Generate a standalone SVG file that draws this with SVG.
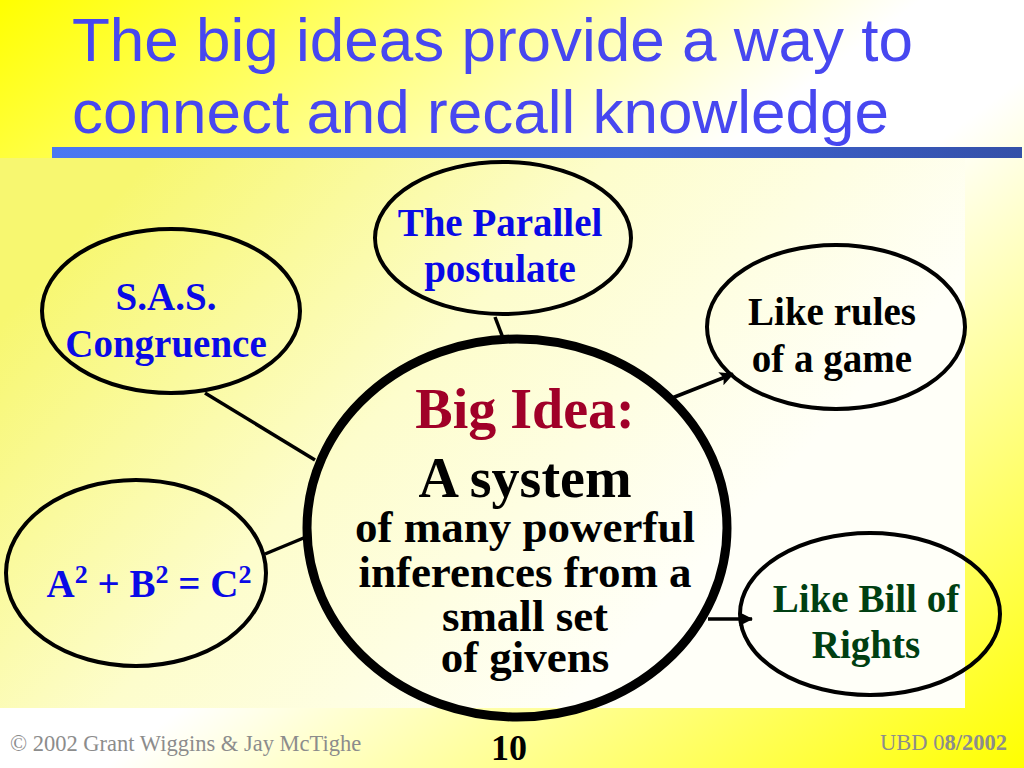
<svg xmlns="http://www.w3.org/2000/svg" width="1024" height="768" viewBox="0 0 1024 768">
<defs>
<linearGradient id="bgOuter" x1="0" y1="0" x2="1" y2="1">
<stop offset="0" stop-color="#FFFF00"/>
<stop offset="0.45" stop-color="#FFFFFF"/>
<stop offset="0.55" stop-color="#FFFFFF"/>
<stop offset="1" stop-color="#FFFF00"/>
</linearGradient>
<linearGradient id="bgInner" gradientUnits="userSpaceOnUse" x1="150" y1="160" x2="650" y2="620">
<stop offset="0" stop-color="#F7F770"/>
<stop offset="0.5" stop-color="#FDFDCC"/>
<stop offset="1" stop-color="#FFFFF8"/>
</linearGradient>
<linearGradient id="rule" x1="0" y1="0" x2="1" y2="0">
<stop offset="0" stop-color="#4A78F2"/>
<stop offset="0.6" stop-color="#3F66D8"/>
<stop offset="1" stop-color="#3450A8"/>
</linearGradient>
<marker id="arrow" markerUnits="userSpaceOnUse" markerWidth="16" markerHeight="16" refX="13" refY="7" orient="auto">
<path d="M0,0 L14,7 L0,14 L3,7 Z" fill="#000"/>
</marker>
<style>
.title{font-family:"Liberation Sans",Arial,sans-serif;font-size:62px;fill:#4747F0}
.node{fill:none;stroke:#000;stroke-width:4}
.big{fill:none;stroke:#000;stroke-width:9}
.conn{stroke:#000;stroke-width:3.5;fill:none}
.t{font-family:"Liberation Serif","Times New Roman",serif;font-weight:bold;text-anchor:middle}
.blue{fill:#0A0AE6;font-size:39px}
.blk{fill:#000;font-size:39px}
.grn{fill:#003F12;font-size:39px}
.foot{font-family:"Liberation Serif","Times New Roman",serif;font-size:22.5px;fill:#8C8C8C}
</style>
</defs>

<rect x="0" y="0" width="1024" height="768" fill="url(#bgOuter)"/>
<rect x="0" y="158" width="965" height="550" fill="url(#bgInner)"/>

<g id="title">
<text class="title" x="72" y="61">The big ideas provide a way to</text>
<text class="title" x="72" y="133">connect and recall knowledge</text>
<rect x="52" y="147" width="970" height="11" fill="url(#rule)"/>
</g>

<g id="connectors">
<line class="conn" x1="495" y1="317" x2="503" y2="338"/>
<line class="conn" x1="205" y1="393" x2="315" y2="460"/>
<line class="conn" x1="265" y1="554" x2="306" y2="537"/>
<line class="conn" x1="672" y1="398" x2="733" y2="374" marker-end="url(#arrow)"/>
<line class="conn" x1="708" y1="619" x2="752" y2="619" marker-end="url(#arrow)"/>
</g>

<g id="node-parallel">
<ellipse class="node" cx="503" cy="238" rx="128" ry="76"/>
<text class="t blue" x="500" y="236">The Parallel</text>
<text class="t blue" x="500" y="282">postulate</text>
</g>

<g id="node-sas">
<ellipse class="node" cx="171" cy="311" rx="129" ry="82"/>
<text class="t blue" x="166" y="310">S.A.S.</text>
<text class="t blue" x="166" y="357">Congruence</text>
</g>

<g id="node-pythagoras">
<ellipse class="node" cx="136" cy="573" rx="130" ry="93"/>
<text class="t blue" x="149" y="597">A<tspan font-size="26" dy="-14">2</tspan><tspan dy="14"> + B</tspan><tspan font-size="26" dy="-14">2</tspan><tspan dy="14"> = C</tspan><tspan font-size="26" dy="-14">2</tspan></text>
</g>

<g id="node-bigidea">
<ellipse class="big" cx="517" cy="528" rx="210" ry="189"/>
<text class="t" x="525" y="428" font-size="56" fill="#A00028">Big Idea:</text>
<text class="t" x="525" y="497" font-size="56" fill="#000">A system</text>
<text class="t" x="525" y="542" font-size="45" fill="#000">of many powerful</text>
<text class="t" x="525" y="587" font-size="45" fill="#000">inferences from a</text>
<text class="t" x="525" y="631" font-size="45" fill="#000">small set</text>
<text class="t" x="525" y="672" font-size="45" fill="#000">of givens</text>
</g>

<g id="node-rules">
<ellipse class="node" cx="836" cy="327" rx="129" ry="82"/>
<text class="t blk" x="832" y="325">Like rules</text>
<text class="t blk" x="832" y="372">of a game</text>
</g>

<g id="node-bill">
<ellipse class="node" cx="870" cy="614" rx="130" ry="81"/>
<text class="t grn" x="866" y="612">Like Bill of</text>
<text class="t grn" x="866" y="658">Rights</text>
</g>

<g id="footer">
<text class="foot" x="10" y="751">© 2002 Grant Wiggins &amp; Jay McTighe</text>
<text x="509" y="760" font-family="Liberation Serif,'Times New Roman',serif" font-weight="bold" font-size="36" fill="#000" text-anchor="middle">10</text>
<text class="foot" x="880" y="750">UBD 0<tspan font-weight="bold">8/2002</tspan></text>
</g>
</svg>
